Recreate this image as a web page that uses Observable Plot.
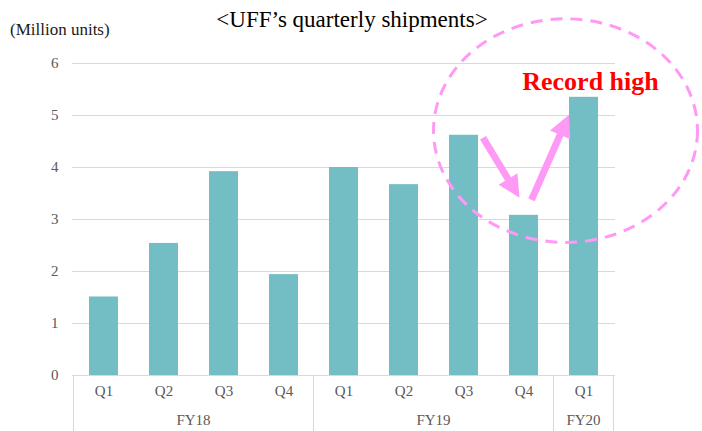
<!DOCTYPE html>
<html>
<head>
<meta charset="utf-8">
<script src="https://cdn.jsdelivr.net/npm/d3@7"></script>
<script src="https://cdn.jsdelivr.net/npm/@observablehq/plot@0.6"></script>
<style>
  html, body { margin: 0; padding: 0; background: #fff; }
  #chart svg { display: block; overflow: visible; }
  #chart svg, #chart svg text { font-family: "Liberation Serif", "Times New Roman", Times, serif !important; }
</style>
</head>
<body>
<div id="chart"></div>
<script>
const fiscalYears = ["FY18", "FY18", "FY18", "FY18", "FY19", "FY19", "FY19", "FY19", "FY20"];
const quarters = ["Q1", "Q2", "Q3", "Q4", "Q1", "Q2", "Q3", "Q4", "Q1"];
const shipments = [1.51, 2.54, 3.92, 1.94, 4.00, 3.67, 4.62, 3.08, 5.35];
const yTicks = [0, 1, 2, 3, 4, 5, 6];
const groups = ["FY18", "FY19", "FY20"];

const titleText = "<UFF\u2019s quarterly shipments>";
const unitText = "(Million units)";
const calloutText = "Record high";

const keys = quarters.map((q, i) => fiscalYears[i] + " " + q);
const data = keys.map((k, i) => ({key: k, fy: fiscalYears[i], q: quarters[i], value: shipments[i]}));

const serif = "Liberation Serif, Times New Roman, Times, serif";
const gridColor = "#d9d9d9";
const textGray = "#595959";
const barColor = "#72bec4";
const pink = "#ff99f6";

const plot = Plot.plot({
  width: 702,
  height: 431,
  marginTop: 63,
  marginBottom: 56,
  marginLeft: 72,
  marginRight: 87,
  style: {fontFamily: serif, fontSize: "15px", color: textGray, background: "#fff", overflow: "visible"},
  x: {domain: keys, paddingInner: 0.52, paddingOuter: 0.26, label: null},
  y: {domain: [0, 6], label: null},
  marks: [
    Plot.gridY(yTicks, {stroke: gridColor, strokeOpacity: 1, strokeWidth: 1}),
    Plot.barY(data, {x: "key", y: "value", fill: barColor}),
    Plot.ruleY([0], {stroke: gridColor, strokeWidth: 1}),
    Plot.axisY(yTicks, {tickSize: 0, tickPadding: 14, fill: textGray, fontSize: 15, fontFamily: serif, label: null,
      tickFormat: d3.format("d")}),
    Plot.axisX({tickSize: 0, tickPadding: 10, fill: textGray, fontSize: 15, fontFamily: serif, label: null,
      tickFormat: k => k.split(" ")[1]})
  ]
});
document.getElementById("chart").appendChild(plot);

// Helpers from the plot's own scales
const xs = plot.scale("x");
const ys = plot.scale("y");
const bw = xs.bandwidth;
const step = xs.step;
const bandStart = k => xs.apply(k);
const center = k => xs.apply(k) + bw / 2;
const Y = v => ys.apply(v);

const svg = d3.select(plot);
const ann = svg.append("g");

// Category group separators and fiscal-year labels
const yBase = Y(0);
const yBottom = 431;
const bounds = groups.map(g => {
  const ks = keys.filter((k, i) => fiscalYears[i] === g);
  const left = bandStart(ks[0]) - (step - bw) / 2;
  const right = bandStart(ks[ks.length - 1]) + bw + (step - bw) / 2;
  return {g, left, right};
});
const sepXs = [bounds[0].left, ...bounds.map(b => b.right)];
ann.selectAll("line.sep").data(sepXs).join("line")
  .attr("x1", d => d).attr("x2", d => d)
  .attr("y1", yBase).attr("y2", yBottom)
  .attr("stroke", gridColor).attr("stroke-width", 1);
ann.selectAll("text.fy").data(bounds).join("text")
  .attr("x", d => (d.left + d.right) / 2)
  .attr("y", yBase + 50)
  .attr("text-anchor", "middle")
  .attr("font-size", 15).attr("fill", textGray)
  .text(d => d.g);

// Title and unit label
svg.append("text")
  .attr("x", 352).attr("y", 27)
  .attr("text-anchor", "middle")
  .attr("font-size", 23).attr("fill", "#000")
  .text(titleText);
svg.append("text")
  .attr("x", 10).attr("y", 35)
  .attr("text-anchor", "start")
  .attr("font-size", 17).attr("fill", "#1a1a1a")
  .text(unitText);

// Dashed ellipse callout
const lastKey = keys[keys.length - 1];
ann.append("ellipse")
  .attr("cx", center(lastKey) - 0.3 * step)
  .attr("cy", Y(4.7))
  .attr("rx", 2.2 * step)
  .attr("ry", Y(0) - Y(2.15))
  .attr("fill", "none")
  .attr("stroke", pink)
  .attr("stroke-width", 3)
  .attr("stroke-dasharray", "12 8");

// Arrows
function arrowPath(x1, y1, x2, y2, shaft, headLen, headW) {
  const dx = x2 - x1, dy = y2 - y1, L = Math.hypot(dx, dy);
  const ux = dx / L, uy = dy / L, nx = -uy, ny = ux;
  const bx = x2 - ux * headLen, by = y2 - uy * headLen;
  const pts = [
    [x1 + nx * shaft / 2, y1 + ny * shaft / 2],
    [bx + nx * shaft / 2, by + ny * shaft / 2],
    [bx + nx * headW / 2, by + ny * headW / 2],
    [x2, y2],
    [bx - nx * headW / 2, by - ny * headW / 2],
    [bx - nx * shaft / 2, by - ny * shaft / 2],
    [x1 - nx * shaft / 2, y1 - ny * shaft / 2]
  ];
  return "M" + pts.map(p => p.join(",")).join("L") + "Z";
}
const kQ3 = keys[6], kQ4 = keys[7];
const a1 = [center(kQ3) + bw / 2 + 5, Y(shipments[6]) + 3, center(kQ4) - 4, Y(shipments[7]) - 17];
const a2 = [center(kQ4) + 8, Y(shipments[7]) - 15, center(lastKey) - bw / 2, Y(shipments[8]) + 18];
ann.append("path").attr("d", arrowPath(...a1, 7, 22, 22)).attr("fill", pink);
ann.append("path").attr("d", arrowPath(...a2, 7, 22, 22)).attr("fill", pink);

// Callout text
ann.append("text")
  .attr("x", center(lastKey) + 7)
  .attr("y", Y(shipments[8]) - 7)
  .attr("text-anchor", "middle")
  .attr("font-size", 26).attr("font-weight", "bold")
  .attr("fill", "#ff0000")
  .text(calloutText);
</script>
</body>
</html>
